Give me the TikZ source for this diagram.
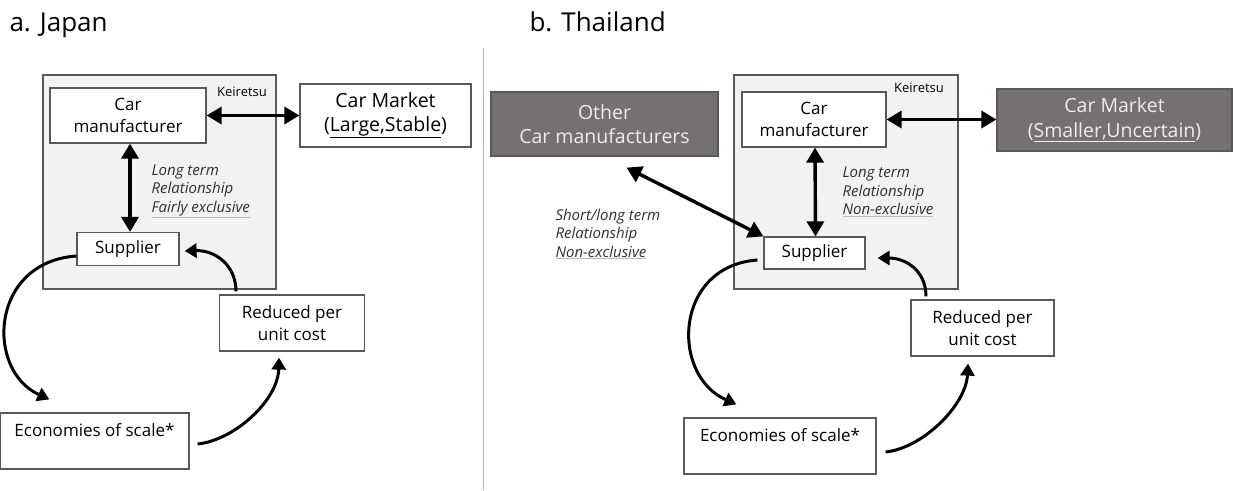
\documentclass[tikz,border=0pt]{standalone}
\usepackage{fontspec}
\setmainfont{Open Sans}
\usepackage{tikz}
\usetikzlibrary{arrows.meta,positioning,calc}

\definecolor{keigray}{HTML}{F2F2F2}
\definecolor{edgegray}{HTML}{595959}
\definecolor{shadefill}{HTML}{767171}
\definecolor{shadetext}{HTML}{EDEDED}
\definecolor{notetext}{HTML}{303030}

\newcommand{\ulgray}[1]{\rlap{\color{gray!55}\underline{\phantom{#1}}}#1}

\tikzset{
	box/.style={draw=edgegray, line width=1.2pt, fill=white, align=center, inner sep=0pt},
	shadebox/.style={box, fill=shadefill, text=shadetext, font=\fontsize{19.5}{24.5}\selectfont},
	group/.style={draw=edgegray, line width=1.2pt, fill=keigray, inner sep=0pt},
	tag/.style={font=\fontsize{13}{15}\selectfont},
	note/.style={align=left, text=notetext, font=\fontsize{15}{18.5}\selectfont\itshape},
	title/.style={font=\fontsize{26}{30}\selectfont},
	link/.style={<->, line width=3.4pt},
	flow/.style={-{Triangle[length=12pt,width=14pt]}, line width=3pt},
	divider/.style={draw=gray!60, line width=1pt}
}

\begin{document}
\begin{tikzpicture}[x=1pt,y=-1pt,>={Triangle[length=15pt,width=17pt]},font=\fontsize{17}{22}\selectfont]
	\useasboundingbox (0,0) rectangle (1233,490);

	% titles and divider
	\node[title,anchor=base west] (title_a) at (6,31) {a. Japan};
	\node[title,anchor=base west] (title_b) at (526,31) {b. Thailand};
	\coordinate (div_top) at (483,48);
	\coordinate (div_bot) at (483,490);
	\draw[divider] (div_top) -- (div_bot);

	% a. Japan
	\node[group,minimum width=233pt,minimum height=214pt] (kei_a) at (159.5,182) {};
	\node[tag] (keitag_a) at (242,92) {Keiretsu};
	\node[box,minimum width=156pt,minimum height=55pt] (car_a) at (128,115.5) {Car\\manufacturer};
	\node[box,minimum width=171pt,minimum height=63pt,font=\fontsize{19.5}{24}\selectfont] (mkt_a) at (385.5,115.5) {Car Market\\(\underline{Large,Stable})};
	\node[box,minimum width=102pt,minimum height=33pt] (sup_a) at (128,249) {Supplier};
	\node[box,minimum width=145pt,minimum height=56pt] (red_a) at (292,323) {Reduced per\\unit cost};
	\node[box,minimum width=189pt,minimum height=56pt] (eco_a) at (94.5,441) {Economies of scale*\\~};
	\node[note,anchor=west] (rel_a) at (148,191) {Long term\\Relationship\\\ulgray{Fairly exclusive}};

	\draw[link] (car_a) -- (mkt_a);
	\draw[link] ([xshift=2pt]car_a.south) -- ([xshift=2pt]sup_a.north);
	\draw[flow] ([yshift=-7pt]sup_a.west) .. controls (-10,262) and (-15,370) .. ([shift={(50pt,13pt)}]eco_a.north west);
	\draw[flow] ([shift={(8pt,-3pt)}]eco_a.east) .. controls (235,440) and (278,400) .. ([shift={(-13pt,-6pt)}]red_a.south);
	\draw[flow] ([shift={(-56pt,3pt)}]red_a.north) .. controls (236,265) and (215,250) .. ([shift={(5pt,-2pt)}]sup_a.east);

	% b. Thailand
	\node[shadebox,minimum width=227pt,minimum height=64pt] (other_b) at (604.5,124) {Other\\Car manufacturers};
	\node[group,minimum width=224pt,minimum height=214pt] (kei_b) at (846,182) {};
	\node[tag] (keitag_b) at (919,88) {Keiretsu};
	\node[box,minimum width=144pt,minimum height=55pt] (car_b) at (814,119.5) {Car\\manufacturer};
	\node[shadebox,minimum width=235pt,minimum height=62pt] (mkt_b) at (1114.5,120) {Car Market\\(\underline{Smaller,Uncertain})};
	\node[box,minimum width=101pt,minimum height=32pt] (sup_b) at (814.5,253) {Supplier};
	\node[box,minimum width=143pt,minimum height=56pt] (red_b) at (982.5,328) {Reduced per\\unit cost};
	\node[box,minimum width=192pt,minimum height=56pt] (eco_b) at (780,446) {Economies of scale*\\~};
	\node[note,anchor=west] (rel_b) at (839,192) {Long term\\Relationship\\\ulgray{Non-exclusive}};
	\node[note,anchor=west] (rel_ob) at (552,234) {Short/long term\\Relationship\\\ulgray{Non-exclusive}};

	\draw[link] (car_b.east) -- (car_b.east -| mkt_b.west);
	\draw[link] ([xshift=1pt]car_b.south) -- ([xshift=1pt]sup_b.north);
	\draw[link] ([shift={(22pt,-11pt)}]other_b.south) -- (sup_b.north west);
	\draw[flow] ([shift={(-6pt,-7pt)}]sup_b.west) .. controls (674,266) and (670,375) .. ([shift={(53pt,13pt)}]eco_b.north west);
	\draw[flow] ([shift={(9pt,-6pt)}]eco_b.east) .. controls (923,448) and (966,405) .. ([shift={(-14.5pt,-7pt)}]red_b.south);
	\draw[flow] ([shift={(-56.5pt,3pt)}]red_b.north) .. controls (926,270) and (905,258) .. ([shift={(12pt,-5pt)}]sup_b.east);
\end{tikzpicture}
\end{document}
